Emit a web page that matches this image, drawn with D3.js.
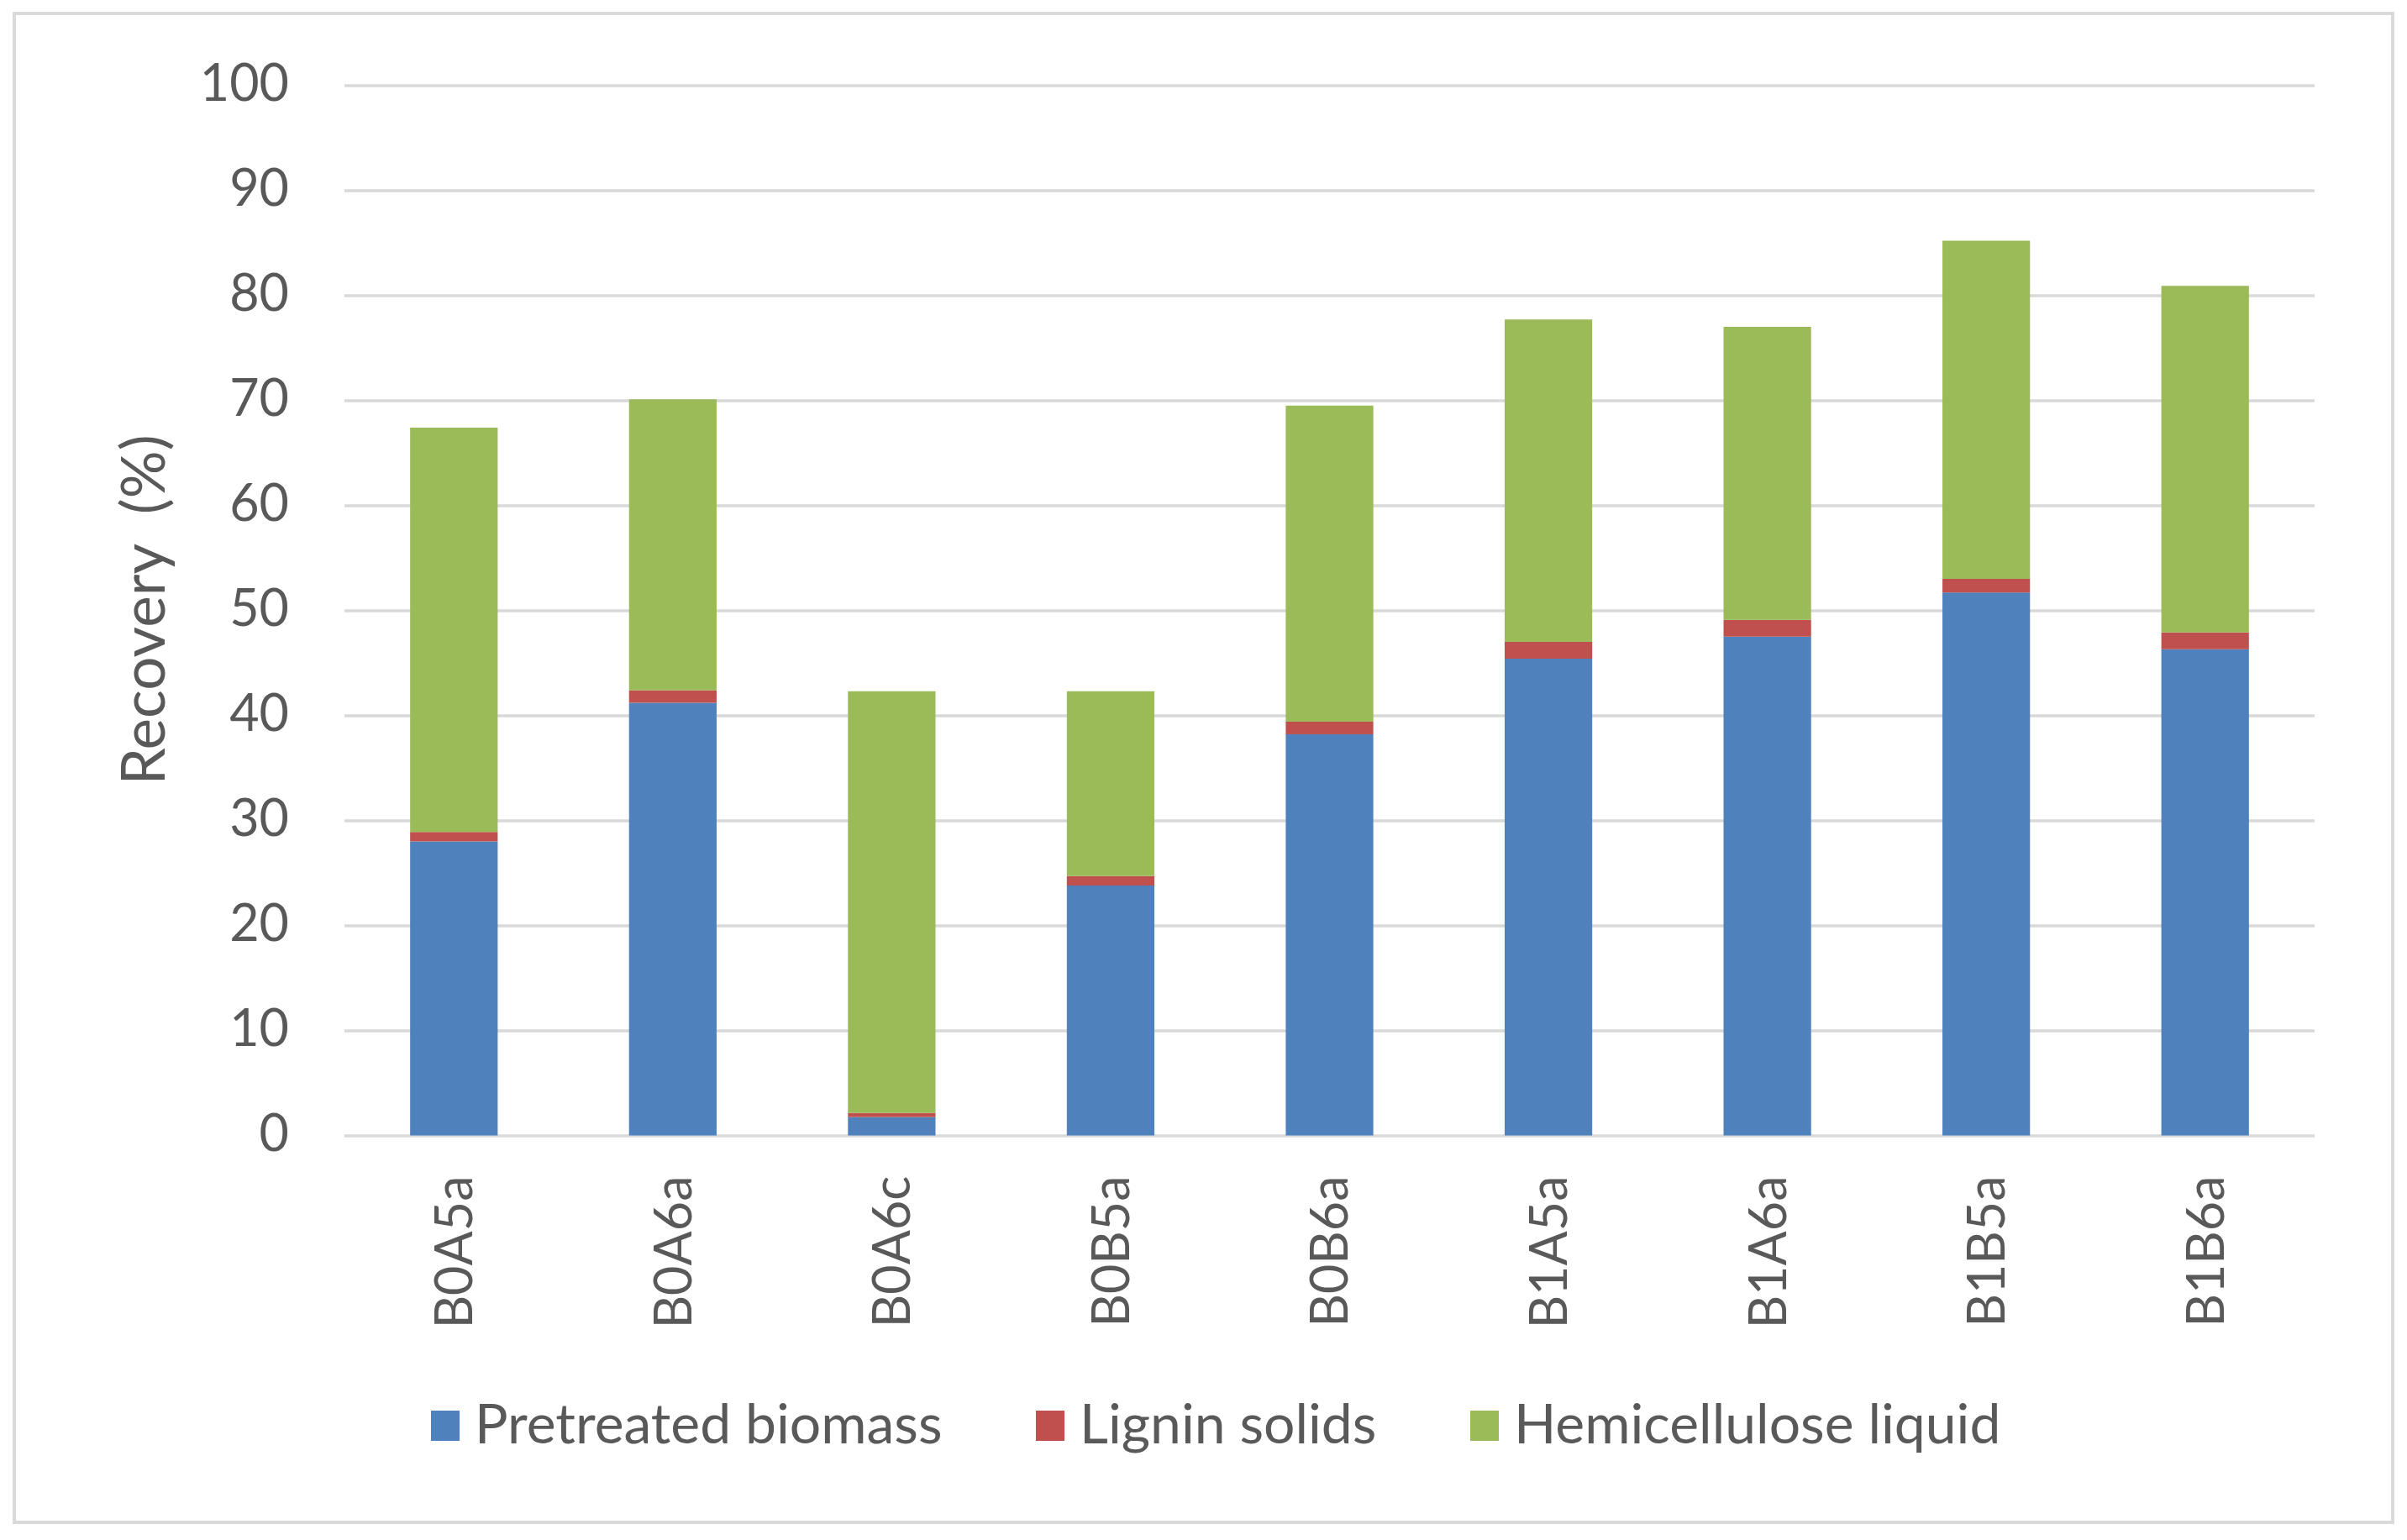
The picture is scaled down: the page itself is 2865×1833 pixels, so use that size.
<!doctype html>
<html lang="en">

<head>
    <meta charset="utf-8" />
    <title>Recovery</title>
    <script src="https://d3js.org/d3.v7.min.js"></script>
    <style>
        body {
            margin: 0;
            background: #fff;
        }

        text {
            font-family: Lato, "Open Sans", sans-serif;
            fill: #595959;
        }
    </style>
</head>

<body>
    <div id="chart"></div>

    <script>
        // data
        const samples = ["B0A5a", "B0A6a", "B0A6c", "B0B5a", "B0B6a", "B1A5a", "B1A6a", "B1B5a", "B1B6a"]
        const seriesNames = ["Pretreated biomass", "Lignin solids", "Hemicellulose liquid"]
        const pretreated = [28.0, 41.2, 1.75, 23.8, 38.2, 45.4, 47.5, 51.7, 46.3]
        const lignin = [0.9, 1.2, 0.4, 0.9, 1.2, 1.6, 1.6, 1.3, 1.6]
        const hemicellulose = [38.5, 27.7, 40.15, 17.6, 30.1, 30.7, 27.9, 32.2, 33.0]
        const yTicks = [0, 10, 20, 30, 40, 50, 60, 70, 80, 90, 100]
        const colors = ["#4f81bd", "#c0504d", "#9bbb59"]

        const W = 2865, H = 1833
        const plot = { left: 410, right: 2755, top: 101.5, bottom: 1351.5 }

        const svg = d3.select("#chart")
            .append("svg")
            .attr("width", W)
            .attr("height", H)

        // outer frame
        svg.append("rect")
            .attr("x", 17).attr("y", 16)
            .attr("width", 2831).attr("height", 1796)
            .attr("fill", "#fff")
            .attr("stroke", "#d9d9d9")
            .attr("stroke-width", 4)

        const x = d3.scaleBand()
            .domain(samples)
            .range([plot.left, plot.right])
            .paddingInner(0.6)
            .paddingOuter(0.3)

        const y = d3.scaleLinear()
            .domain([0, 100])
            .range([plot.bottom, plot.top])

        // gridlines + y labels
        const yAxis = svg.append("g")
            .attr("transform", `translate(${plot.left},0)`)
            .call(d3.axisLeft(y)
                .tickValues(yTicks)
                .tickSize(-(plot.right - plot.left))
                .tickPadding(66)
                .tickFormat(d3.format("d")))
        yAxis.select(".domain").remove()
        yAxis.selectAll(".tick line")
            .attr("stroke", "#d9d9d9")
            .attr("stroke-width", 3.5)
        yAxis.selectAll(".tick text")
            .attr("font-size", 61)
            .attr("fill", "#595959")
            .attr("dy", "0.3em")

        // stacked bars
        const rows = samples.map((s, i) => ({
            sample: s,
            [seriesNames[0]]: pretreated[i],
            [seriesNames[1]]: lignin[i],
            [seriesNames[2]]: hemicellulose[i]
        }))
        const stacked = d3.stack().keys(seriesNames)(rows)

        svg.append("g")
            .selectAll("g")
            .data(stacked)
            .join("g")
            .attr("fill", (d, i) => colors[i])
            .selectAll("rect")
            .data(d => d)
            .join("rect")
            .attr("x", d => x(d.data.sample))
            .attr("width", x.bandwidth())
            .attr("y", d => y(d[1]))
            .attr("height", d => y(d[0]) - y(d[1]))

        // category labels, rotated
        const xAxis = svg.append("g")
            .attr("transform", `translate(0,${plot.bottom})`)
            .call(d3.axisBottom(x).tickSize(0))
        xAxis.select(".domain").remove()
        xAxis.selectAll(".tick text")
            .attr("font-size", 61)
            .attr("fill", "#595959")
            .attr("transform", "rotate(-90)")
            .attr("text-anchor", "end")
            .attr("x", -48)
            .attr("y", 0)
            .attr("dy", "0.36em")

        // y title
        svg.append("text")
            .attr("transform", "translate(196,726) rotate(-90)")
            .attr("text-anchor", "middle")
            .attr("font-size", 71)
            .attr("xml:space", "preserve")
            .style("white-space", "pre")
            .text("Recovery  (%)")

        // legend
        const legendX = [513, 1233, 1750]
        const legend = svg.append("g")
            .selectAll("g")
            .data(seriesNames)
            .join("g")
            .attr("transform", (d, i) => `translate(${legendX[i]},1679)`)
        legend.append("rect")
            .attr("width", 34)
            .attr("height", 36)
            .attr("fill", (d, i) => colors[i])
        legend.append("text")
            .attr("x", 52)
            .attr("y", 39)
            .attr("font-size", 66)
            .text(d => d)
    </script>
</body>

</html>
